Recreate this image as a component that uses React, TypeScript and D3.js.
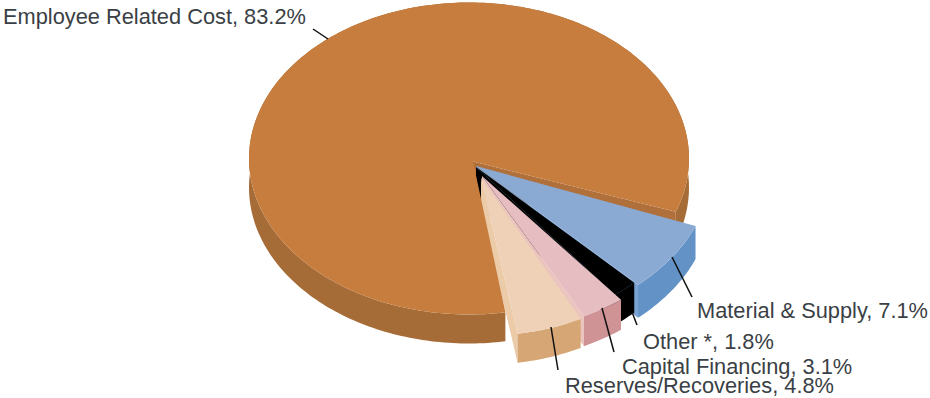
import React from "react";
import * as d3 from "d3";

const categories = ["Material & Supply", "Other *", "Capital Financing", "Reserves/Recoveries", "Employee Related Cost"];
const shares = [7.1, 1.8, 3.1, 4.8, 83.2];
const topColors = ["#8AAAD3", "#000000", "#E6BEC1", "#EFD1B8", "#C77D3E"];
const wallColors = ["#6393C6", "#000000", "#CF9295", "#D6A675", "#A66C38"];
const cutColors = ["#79A3D2", "#000000", "#EBC4BE", "#EBCBA8", "#B0703A"];

const WIDTH = 930;
const HEIGHT = 398;
const START = (110 * Math.PI) / 180;

type Geo = { ax: number; ay: number; cx: number; cy: number; rx: number; ry: number; depth: number };
// Projected ellipse for each slice: apex, ellipse centre, radii, wall depth (the exploded slices sit a little apart).
const sliceGeometry: Geo[] = [
  { ax: 476, ay: 166, cx: 470, cy: 172, rx: 240, ry: 158, depth: 33 },
  { ax: 476, ay: 167, cx: 476, cy: 167, rx: 226, ry: 162, depth: 30 },
  { ax: 482, ay: 176, cx: 482, cy: 176, rx: 226, ry: 157, depth: 30 },
  { ax: 481, ay: 178, cx: 481, cy: 178, rx: 221, ry: 158, depth: 29 },
  { ax: 473, ay: 161.5, cx: 469, cy: 158.5, rx: 220, ry: 156, depth: 29 },
];

type LabelLayout = { x: number; y: number; line: [number, number, number, number] };
const labelLayout: LabelLayout[] = [
  { x: 697, y: 318, line: [672, 257, 692, 297] },
  { x: 643, y: 349, line: [632, 312, 637, 325] },
  { x: 622, y: 374, line: [602, 308, 614, 352] },
  { x: 565, y: 393, line: [551, 327, 558, 370] },
  { x: 3, y: 24, line: [328, 39, 313, 29] },
];

const pieGen = d3
  .pie<number>()
  .sort(null)
  .value((d) => d)
  .startAngle(START)
  .endAngle(START + 2 * Math.PI);

const arcs = pieGen(shares);
const lineGen = d3.line();

function rim(g: Geo, a0: number, a1: number, dy = 0): [number, number][] {
  const n = Math.max(2, Math.ceil(Math.abs(a1 - a0) / 0.02));
  const angle = d3.scaleLinear().domain([0, n]).range([a0, a1]);
  return d3.range(n + 1).map((i) => {
    const a = angle(i);
    return [g.cx + g.rx * Math.sin(a), g.cy - g.ry * Math.cos(a) + dy] as [number, number];
  });
}

const topPath = (g: Geo, a0: number, a1: number) =>
  lineGen([[g.ax, g.ay], ...rim(g, a0, a1)]) + "Z";

const wallPath = (g: Geo, a0: number, a1: number) =>
  lineGen([...rim(g, a0, a1), ...rim(g, a1, a0, g.depth)]) + "Z";

const cutPath = (g: Geo, a: number) => {
  const [p] = rim(g, a, a + 0.01);
  return lineGen([[g.ax, g.ay], p, [p[0], p[1] + g.depth], [g.ax, g.ay + g.depth]]) + "Z";
};

export default function App() {
  const main = arcs[4];
  const mainG = sliceGeometry[4];
  return (
    <svg
      width={WIDTH}
      height={HEIGHT}
      viewBox={`0 0 ${WIDTH} ${HEIGHT}`}
      style={{ position: "absolute", left: 0, top: 0, background: "#fff" }}
    >
      <defs>
        <filter id="soft" x="-5%" y="-5%" width="110%" height="110%">
          <feGaussianBlur stdDeviation="0.5" />
        </filter>
      </defs>
      <g filter="url(#soft)">
        {/* Employee walls */}
        <path d={wallPath(mainG, main.startAngle, main.endAngle)} fill={wallColors[4]} />
        <path d={cutPath(mainG, main.endAngle)} fill={cutColors[4]} />
        {/* Exploded slices, back to front */}
        {arcs.slice(0, 4).map((a, i) => {
          const g = sliceGeometry[i];
          return (
            <g key={categories[i]}>
              <path d={cutPath(g, a.endAngle)} fill={cutColors[i]} />
              <path d={wallPath(g, a.startAngle, a.endAngle)} fill={wallColors[i]} />
              <path d={topPath(g, a.startAngle, a.endAngle)} fill={topColors[i]} />
            </g>
          );
        })}
        {/* Employee top face */}
        <path d={topPath(mainG, main.startAngle, main.endAngle)} fill={topColors[4]} />
      </g>
      {labelLayout.map((l, i) => (
        <line
          key={"leader" + i}
          x1={l.line[0]}
          y1={l.line[1]}
          x2={l.line[2]}
          y2={l.line[3]}
          stroke="#111"
          strokeWidth={1.5}
        />
      ))}
      {labelLayout.map((l, i) => (
        <text
          key={"label" + i}
          x={l.x}
          y={l.y}
          fontFamily="'Liberation Sans', Arial, sans-serif"
          fontSize={21.8}
          fill="#3A3F45"
        >
          {`${categories[i]}, ${d3.format(".1f")(shares[i])}%`}
        </text>
      ))}
    </svg>
  );
}
